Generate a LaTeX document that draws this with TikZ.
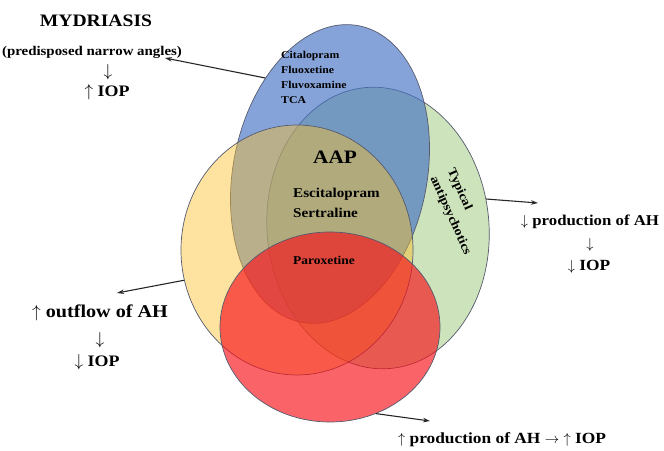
\documentclass[tikz,border=0pt]{standalone}
\usepackage{fontspec}
\setmainfont[FakeStretch=1.12]{Liberation Serif}
\usetikzlibrary{shapes.geometric,arrows.meta}
\definecolor{bluefill}{RGB}{68,114,196}
\definecolor{greenfill}{RGB}{205,227,187}
\definecolor{yellowfill}{RGB}{251,191,44}
\definecolor{redfill}{RGB}{248,17,25}
\definecolor{vennline}{RGB}{85,90,110}
\newcommand{\txtsize}[2]{\fontsize{#1}{#2}\selectfont}
\tikzset{
  venn/.style={ellipse, draw=vennline, line width=0.7pt, inner sep=0pt},
  lbl/.style={inner sep=0pt, text=black},
  conn/.style={-{Stealth[length=7pt,width=4.5pt]}, line width=1.1pt, black!85}
}
\begin{document}
\begin{tikzpicture}[x=1pt,y=1pt]
  \useasboundingbox (0,0) rectangle (664,450);
  \node[venn, fill=greenfill, minimum width=222pt, minimum height=282pt, rotate=5] (green) at (378,222) {};
  \node[venn, fill=bluefill, fill opacity=0.65, minimum width=194pt, minimum height=302pt, rotate=-11] (blue) at (330,276) {};
  \node[venn, fill=yellowfill, fill opacity=0.45, minimum width=232pt, minimum height=250pt] (yellow) at (297,200) {};
  \node[venn, fill=redfill, fill opacity=0.65, minimum width=220pt, minimum height=190pt] (red) at (330,123) {};

  \node[lbl, font=\bfseries\txtsize{17.5}{20}] (mydr) at (96,429) {MYDRIASIS};
  \node[lbl, font=\bfseries\txtsize{13.3}{16}] (pred) at (92,398) {(predisposed narrow angles)};
  \node[lbl, font=\bfseries\txtsize{16}{18}] (predarr) at (108,378) {$\downarrow$};
  \node[lbl, font=\bfseries\txtsize{16}{18}] (prediop) at (107,358) {$\uparrow$ IOP};

  \node[lbl, font=\bfseries\txtsize{10.5}{15}, align=left, anchor=west] (cita) at (281,373) {Citalopram\\Fluoxetine\\Fluvoxamine\\TCA};
  \node[lbl, font=\bfseries\txtsize{19}{22}] (aap) at (335,293) {AAP};
  \node[lbl, font=\bfseries\txtsize{13.5}{20}, align=left, anchor=west] (escsert) at (293,247) {Escitalopram\\Sertraline};
  \node[lbl, font=\bfseries\txtsize{12}{14}, anchor=west] (parox) at (293,190) {Paroxetine};
  \node[lbl, font=\bfseries\txtsize{12.5}{19}, align=left, rotate=-66] (typ) at (459,238) {Typical\\antipsychotics};

  \node[lbl, font=\bfseries\txtsize{15}{18}] (prodtxt) at (590,228) {$\downarrow$ production of AH};
  \node[lbl, font=\bfseries\txtsize{15}{18}] (prodarr) at (590,205) {$\downarrow$};
  \node[lbl, font=\bfseries\txtsize{15.5}{18}] (prodiop) at (589,183) {$\downarrow$ IOP};

  \node[lbl, font=\bfseries\txtsize{18}{20}] (outtxt) at (100,137) {$\uparrow$ outflow of AH};
  \node[lbl, font=\bfseries\txtsize{16}{18}] (outarr) at (100,110) {$\downarrow$};
  \node[lbl, font=\bfseries\txtsize{16}{18}] (outiop) at (97,88) {$\downarrow$ IOP};

  \node[lbl, font=\bfseries\txtsize{15.5}{18}] (produp) at (502,10) {$\uparrow$ production of AH $\rightarrow$ $\uparrow$ IOP};

  \coordinate (mydtip) at (165,392);
  \coordinate (prodtip) at (538,247);
  \coordinate (outtip) at (117,157);
  \coordinate (uptip) at (430,29);
  \draw[conn] (blue.135) -- (mydtip);
  \draw[conn] (green.10) -- (prodtip);
  \draw[conn] (yellow.195) -- (outtip);
  \draw[conn] (red.298) -- (uptip);
\end{tikzpicture}
\end{document}
